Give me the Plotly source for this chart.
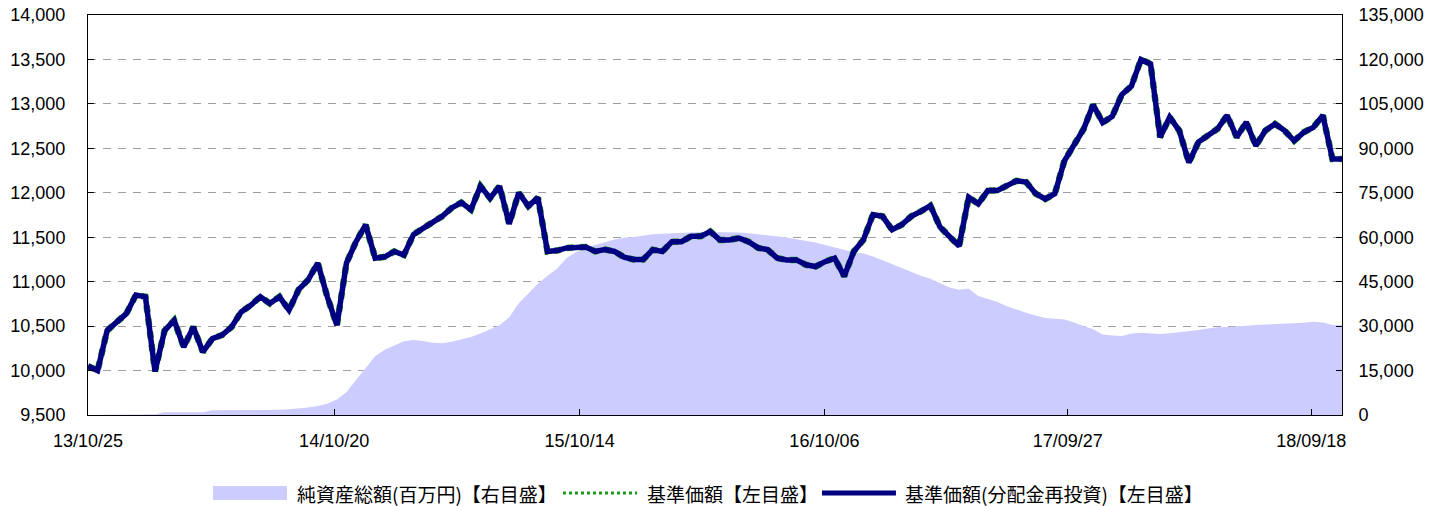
import pandas as pd
import plotly.graph_objects as go

# sampling dates (every 14 calendar days from the first data date)
dates = pd.date_range("2013-10-25", periods=132, freq="14D")

# 基準価額(分配金再投資) / 基準価額 (円) – left axis
nav = [
    10050, 10000, 10450, 10550, 10640, 10850, 10830, 9990, 10450, 10565,
    10265, 10490, 10210, 10360, 10400, 10490, 10660, 10735, 10830, 10755,
    10830, 10680, 10910, 11020, 11210, 10830, 10510, 11210, 11450, 11640,
    11265, 11280, 11340, 11300, 11530, 11600, 11660, 11735, 11830, 11890,
    11810, 12075, 11940, 12075, 11650, 12000, 11850, 11945, 11340, 11350,
    11380, 11380, 11390, 11340, 11360, 11340, 11275, 11250, 11250, 11360,
    11340, 11450, 11450, 11510, 11510, 11565, 11470, 11470, 11490, 11450,
    11380, 11360, 11265, 11245, 11245, 11190, 11170, 11225, 11265, 11060,
    11340, 11470, 11755, 11735, 11585, 11640, 11735, 11790, 11855, 11615,
    11505, 11400, 11950, 11875, 12025, 12025, 12080, 12135, 12120, 11990,
    11930, 11990, 12360, 12525, 12715, 12990, 12790, 12860, 13105, 13200,
    13500, 13450, 12625, 12850, 12700, 12340, 12570, 12645, 12720, 12870,
    12625, 12795, 12530, 12700, 12775, 12700, 12585, 12680, 12735, 12870,
    12380, 12380,
]
nav_base = list(nav)  # 基準価額 (no distributions, same path)

# 純資産総額 (百万円) – right axis
assets = [
    0, 0, 0, 0, 250, 250, 250, 250, 900, 900,
    900, 900, 900, 1600, 1600, 1600, 1600, 1650, 1650, 1700,
    1750, 1900, 2100, 2500, 3000, 3800, 5200, 7700, 11800, 16000,
    19800, 22000, 23400, 24900, 25300, 25000, 24400, 24200, 24700, 25400,
    26300, 27500, 29000, 30300, 33000, 37700, 41000, 44300, 47000, 49400,
    53000, 55000, 56500, 57500, 58300, 59200, 59800, 60100, 60600, 61000,
    61200, 61400, 61600, 61700, 61800, 61800, 61800, 61800, 61600, 61300,
    61000, 60700, 60400, 59900, 59300, 58800, 58200, 57400, 56500, 55600,
    54900, 54500, 53500, 52200, 50900, 49700, 48400, 47000, 46000, 44400,
    43000, 42300, 42700, 40200, 39100, 38100, 36700, 35500, 34500, 33600,
    32700, 32500, 32200, 31200, 30000, 28900, 27200, 26800, 26700, 27500,
    27800, 27500, 27300, 27600, 27900, 28300, 28700, 29200, 29600, 29700,
    29800, 30100, 30400, 30500, 30700, 30800, 30900, 31100, 31500, 31200,
    30400, 30400,
]

series_names = ["純資産総額(百万円)【右目盛】", "基準価額【左目盛】", "基準価額(分配金再投資)【左目盛】"]

tick_dates = ["2013-10-25", "2014-10-20", "2015-10-14", "2016-10-06", "2017-09-27", "2018-09-18"]
tick_text = ["13/10/25", "14/10/20", "15/10/14", "16/10/06", "17/09/27", "18/09/18"]

left_ticks = list(range(9500, 14001, 500))
right_ticks = list(range(0, 135001, 15000))

AREA_C = "#CCCCFF"
GREEN_C = "#1a9a1a"
NAVY_C = "#000080"

tick_font = dict(family="Liberation Sans, Arial, sans-serif", size=18, color="#000000")
legend_font = dict(family="Noto Sans CJK JP, sans-serif", size=19, color="#000000")

fig = go.Figure()
fig.add_trace(go.Scatter(
    x=dates, y=assets, name=series_names[0],
    mode="lines", line=dict(width=0, color=AREA_C),
    fill="tozeroy", fillcolor=AREA_C, yaxis="y",
))
fig.add_trace(go.Scatter(
    x=dates, y=nav_base, name=series_names[1],
    mode="lines", line=dict(width=6.5, color=GREEN_C, dash="dot"), yaxis="y2",
))
fig.add_trace(go.Scatter(
    x=dates, y=nav, name=series_names[2],
    mode="lines", line=dict(width=5.5, color=NAVY_C), yaxis="y2",
))

# legend drawn below the plot (swatch + label), positioned in paper coordinates
leg_y = -0.195
fig.add_shape(type="rect", xref="paper", yref="paper", x0=0.0997, x1=0.1587,
              y0=-0.2125, y1=-0.1775, fillcolor=AREA_C, line=dict(width=0))
fig.add_shape(type="line", xref="paper", yref="paper", x0=0.3788, x1=0.4378,
              y0=leg_y, y1=leg_y, line=dict(color=GREEN_C, width=3, dash="dot"))
fig.add_shape(type="line", xref="paper", yref="paper", x0=0.5853, x1=0.6443,
              y0=leg_y, y1=leg_y, line=dict(color=NAVY_C, width=5))
for name, xpos in zip(series_names, [0.1651, 0.4442, 0.6499]):
    fig.add_annotation(text=name, xref="paper", yref="paper", x=xpos, y=leg_y,
                       xanchor="left", yanchor="middle", showarrow=False,
                       font=legend_font)

fig.update_layout(
    width=1442, height=506,
    margin=dict(l=80, r=108, t=7, b=99),
    paper_bgcolor="white", plot_bgcolor="white",
    showlegend=False,
    xaxis=dict(
        type="date", range=["2013-10-25", "2018-11-02"], automargin=False,
        tickmode="array", tickvals=tick_dates, ticktext=tick_text,
        ticks="inside", ticklen=6, tickcolor="#000000",
        showline=True, linecolor="#000000", linewidth=1, mirror=True,
        showgrid=False, tickfont=tick_font, ticklabelstandoff=9,
        ticklabeloverflow="allow",
    ),
    yaxis=dict(
        side="right", range=[0, 135000], tickmode="array", tickvals=right_ticks,
        tickformat=",d", ticks="inside", ticklen=6, tickcolor="#000000",
        showline=True, linecolor="#000000", linewidth=1, automargin=False,
        showgrid=True, gridcolor="#a0a0a0", gridwidth=1, griddash="8px,7px",
        zeroline=False, tickfont=tick_font, ticklabelstandoff=12,
        ticklabeloverflow="allow",
    ),
    yaxis2=dict(
        side="left", overlaying="y", range=[9500, 14000], tickmode="array",
        tickvals=left_ticks, tickformat=",d", ticks="inside", ticklen=6,
        tickcolor="#000000", showline=True, linecolor="#000000", linewidth=1,
        automargin=False, showgrid=False, zeroline=False, tickfont=tick_font,
        ticklabelstandoff=18, ticklabeloverflow="allow",
    ),
)

fig.write_html("out.html")
